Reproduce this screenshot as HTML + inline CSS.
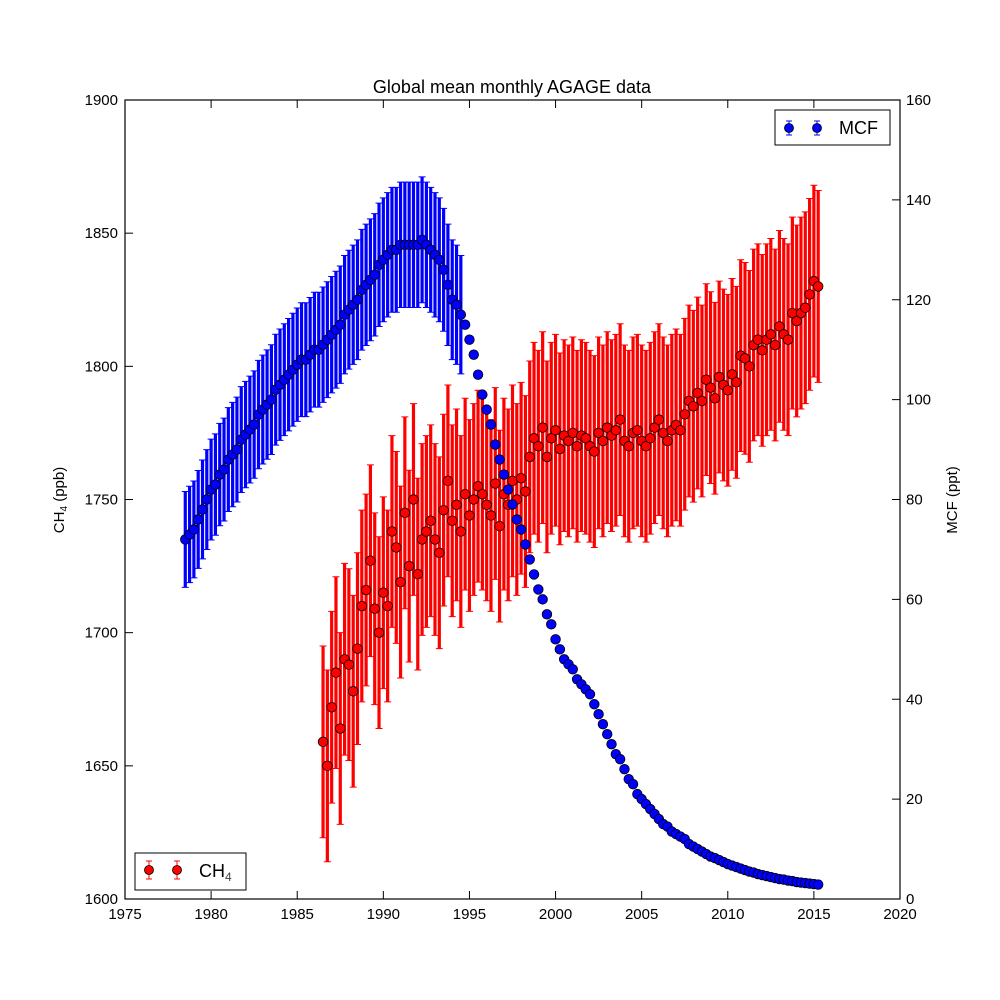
<!DOCTYPE html>
<html><head><meta charset="utf-8">
<style>
body{margin:0;background:#fff;}
svg{display:block;font-family:"Liberation Sans","DejaVu Sans",sans-serif;}
</style></head>
<body>
<svg id="chart" width="1000" height="1000" viewBox="0 0 1000 1000">
<rect width="1000" height="1000" fill="#fff"/>
<g id="plot"></g>
<rect x="125" y="100" width="775" height="799" fill="none" stroke="#000" stroke-width="1.2"/>
<g id="axes"></g>
<text x="512" y="93" text-anchor="middle" font-size="18">Global mean monthly AGAGE data</text>
<text transform="translate(64,500) rotate(-90)" text-anchor="middle" font-size="15">CH<tspan font-size="10" dy="3">4</tspan><tspan dy="-3"> (ppb)</tspan></text>
<text transform="translate(957,500) rotate(-90)" text-anchor="middle" font-size="15">MCF (ppt)</text>
<g>
<rect x="775" y="110" width="115" height="35" fill="#fff" stroke="#000" stroke-width="1"/>
<line x1="789" y1="121" x2="789" y2="135" stroke="#00f"/><line x1="786" y1="121" x2="792" y2="121" stroke="#00f"/><line x1="786" y1="135" x2="792" y2="135" stroke="#00f"/>
<circle cx="789" cy="128" r="4.5" fill="#00f" stroke="#000" stroke-width="0.8"/>
<line x1="817" y1="121" x2="817" y2="135" stroke="#00f"/><line x1="814" y1="121" x2="820" y2="121" stroke="#00f"/><line x1="814" y1="135" x2="820" y2="135" stroke="#00f"/>
<circle cx="817" cy="128" r="4.5" fill="#00f" stroke="#000" stroke-width="0.8"/>
<text x="839" y="134" font-size="18">MCF</text>
</g>
<g>
<rect x="135" y="853" width="111" height="37" fill="#fff" stroke="#000" stroke-width="1"/>
<line x1="149" y1="861" x2="149" y2="879" stroke="#f00"/><line x1="146" y1="861" x2="152" y2="861" stroke="#f00"/><line x1="146" y1="879" x2="152" y2="879" stroke="#f00"/>
<circle cx="149" cy="870" r="4.5" fill="#f00" stroke="#000" stroke-width="0.8"/>
<line x1="177" y1="861" x2="177" y2="879" stroke="#f00"/><line x1="174" y1="861" x2="180" y2="861" stroke="#f00"/><line x1="174" y1="879" x2="180" y2="879" stroke="#f00"/>
<circle cx="177" cy="870" r="4.5" fill="#f00" stroke="#000" stroke-width="0.8"/>
<text x="199" y="877" font-size="18">CH<tspan font-size="12" dy="4" fill="#444">4</tspan></text>
</g>
</svg>
<script>
const xTicks=[1975,1980,1985,1990,1995,2000,2005,2010,2015,2020];
const leftTicks=[1600,1650,1700,1750,1800,1850,1900];
const rightTicks=[0,20,40,60,80,100,120,140,160];
const ch4Start=1986.5, mcfStart=1978.5, step=0.25;
const ch4Values=[1659,1650,
1672,1685,1664,1690, 1688,1678,1694,1710, 1716,1727,1709,1700, 1715,1710,1738,1732,
1719,1745,1725,1750, 1722,1735,1738,1742, 1735,1730,1746,1757, 1742,1748,1738,1752,
1744,1750,1755,1752, 1748,1744,1756,1740, 1752,1748,1757,1750, 1758,1753,1766,1773,
1770,1777,1766,1773, 1776,1769,1774,1772, 1775,1770,1774,1773, 1770,1768,1775,1772,
1777,1774,1776,1780, 1772,1770,1775,1776, 1772,1770,1773,1777, 1780,1775,1772,1776,
1778,1776,1782,1787, 1785,1790,1787,1795, 1792,1788,1796,1793, 1791,1797,1794,1804,
1803,1800,1808,1810, 1806,1810,1812,1808, 1815,1812,1810,1820, 1817,1820,1822,1827,
1832,1830];
const ch4Err=[36];
const mcfValues=[72,73,
74,76,78,80, 82,83,85,86, 88,89,90,92, 93,94,95,97, 98,99,100,102, 103,104,105,106,
107,108,108,109, 110,110,111,112, 113,114,115,117, 118,119,120,122, 123,124,125,127,
128,129,130,130, 131,131,131,131, 131,132,131,130, 129,128,126,123, 120,119,117,115,
112,109,105,101, 98,95,91,88, 85,82,79,76, 74,71,68,65, 62,60,57,55, 52,50,48,47,
46,44,43,42, 41,39,37,35, 33,31,29,28, 26,24,23,21, 20,19,18,17, 16,15,14.5,13.5,
13,12.5,12,11, 10.5,10,9.5,9, 8.5,8.2,7.8,7.4, 7,6.7,6.4,6.1, 5.8,5.5,5.3,5,
4.8,4.6,4.4,4.2, 4,3.9,3.7,3.6, 3.4,3.3,3.2,3.1, 3.0,2.9];
const mcfErrFrac=[0.05], mcfErrBase=[6], mcfErrLate=[0.6], mcfErrCutoff=[1994.6];

const NS="http://www.w3.org/2000/svg";
const xS=v=>125+(v-1975)*775/45;
const yL=v=>899-(v-1600)*799/300;
const yR=v=>899-v*799/160;
function mk(tag,attrs,parent){const e=document.createElementNS(NS,tag);for(const k in attrs)e.setAttribute(k,attrs[k]);parent.appendChild(e);return e;}
const plot=document.getElementById('plot'), axes=document.getElementById('axes');

function series(vals,start,errFn,ys,color,name){
  const g=mk('g',{},plot);
  
  
  const eg=mk('g',{stroke:color,'stroke-width':3.2},g);
  const cg=mk('g',{stroke:color,'stroke-width':1},g);
  vals.forEach((v,i)=>{const x=xS(start+i*step),e=errFn(v,start+i*step);
    const t=ys(v+e),b=ys(v-e);
    const l=mk('path',{d:`M${x},${t}V${b}`},eg);
    
    
    mk('path',{d:`M${x-3.5},${t}H${x+3.5}M${x-3.5},${b}H${x+3.5}`},cg);
  });
  vals.forEach((v,i)=>{const c=mk('circle',{cx:xS(start+i*step),cy:ys(v),r:4.8,fill:color,stroke:'#000','stroke-width':0.8},g);
    
    
  });
}
series(ch4Values,ch4Start,()=>ch4Err[0],yL,'#f00','ch4');
series(mcfValues,mcfStart,(v,t)=>t<mcfErrCutoff[0]?mcfErrFrac[0]*v+mcfErrBase[0]:mcfErrLate[0],yR,'#00f','mcf');

xTicks.forEach(t=>{const x=xS(t);
  mk('path',{d:`M${x},899V891M${x},100V108`,stroke:'#000'},axes);
  const tx=mk('text',{x:x,y:919,'text-anchor':'middle','font-size':15},axes);tx.textContent=t;
  
  
});
leftTicks.forEach(t=>{const y=yL(t);
  mk('path',{d:`M125,${y}H133`,stroke:'#000'},axes);
  const tx=mk('text',{x:118,y:y+5,'text-anchor':'end','font-size':15},axes);tx.textContent=t;
  
  
});
rightTicks.forEach(t=>{const y=yR(t);
  mk('path',{d:`M900,${y}H892`,stroke:'#000'},axes);
  const tx=mk('text',{x:906,y:y+5,'text-anchor':'start','font-size':15},axes);tx.textContent=t;
  
  
});
</script>
</body></html>
